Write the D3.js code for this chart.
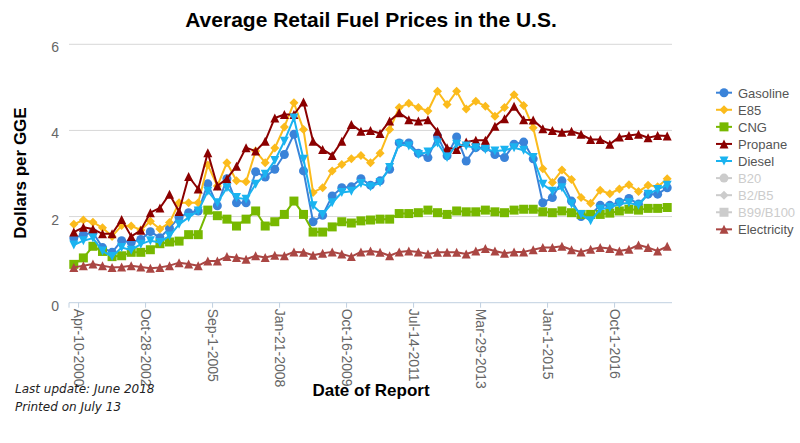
<!DOCTYPE html>
<html>
<head>
<meta charset="utf-8">
<script src="https://cdn.jsdelivr.net/npm/d3@7"></script>
<style>
body { margin: 0; background: #fff; }
svg { display: block; font-family: "Liberation Sans", Arial, sans-serif; }
</style>
</head>
<body>
<svg id="chart" width="800" height="443"></svg>
<script>
// report dates (category axis), one label shown every 7th report
const categories = [
    "Apr-10-2000", "Jul-17-2000", "Oct-16-2000", "Mar-5-2001", "Jul-9-2001", "Nov-5-2001", "Apr-15-2002",
    "Oct-28-2002", "Feb-10-2003", "Jun-16-2003", "Nov-3-2003", "Mar-8-2004", "Jul-12-2004", "Mar-7-2005",
    "Sep-1-2005", "Dec-5-2005", "Mar-6-2006", "Jun-12-2006", "Oct-9-2006", "Mar-5-2007", "Jul-9-2007",
    "Jan-21-2008", "Apr-7-2008", "Jul-7-2008", "Oct-6-2008", "Jan-5-2009", "Apr-6-2009", "Jul-6-2009",
    "Oct-16-2009", "Jan-4-2010", "Apr-5-2010", "Jul-5-2010", "Oct-4-2010", "Jan-3-2011", "Apr-4-2011",
    "Jul-14-2011", "Oct-3-2011", "Jan-2-2012", "Apr-2-2012", "Jul-2-2012", "Oct-1-2012", "Jan-2-2013",
    "Mar-29-2013", "Jul-1-2013", "Oct-1-2013", "Jan-2-2014", "Apr-1-2014", "Jul-1-2014", "Oct-1-2014",
    "Jan-1-2015", "Apr-1-2015", "Jul-1-2015", "Oct-1-2015", "Jan-1-2016", "Apr-1-2016", "Jul-1-2016",
    "Oct-1-2016", "Jan-1-2017", "Apr-1-2017", "Jul-1-2017", "Oct-1-2017", "Jan-1-2018", "Apr-1-2018"
];
const tickLabels = ["Apr-10-2000", "Oct-28-2002", "Sep-1-2005", "Jan-21-2008", "Oct-16-2009",
    "Jul-14-2011", "Mar-29-2013", "Jan-1-2015", "Oct-1-2016"];
const yTicks = [0, 2, 4, 6];

// dollars per gasoline gallon equivalent
const gasoline = [1.50, 1.58, 1.63, 1.28, 1.17, 1.44, 1.40, 1.47, 1.65, 1.51, 1.73, 1.98, 2.09, 2.13,
    2.76, 2.25, 2.88, 2.32, 2.32, 3.04, 2.92, 3.10, 3.44, 3.91, 3.06, 1.88, 2.03, 2.48, 2.67, 2.69,
    2.88, 2.73, 2.83, 3.10, 3.71, 3.71, 3.47, 3.37, 3.87, 3.41, 3.85, 3.29, 3.60, 3.60, 3.44, 3.37,
    3.68, 3.73, 3.34, 2.32, 2.44, 2.83, 2.36, 2.00, 2.05, 2.26, 2.26, 2.34, 2.42, 2.29, 2.52, 2.52, 2.67];
const e85 = [1.82, 1.92, 1.87, 1.74, 1.54, 1.79, 1.78, 1.69, 1.89, 1.71, 1.86, 2.32, 2.32, 2.32,
    3.20, 2.71, 3.25, 2.83, 2.81, 3.52, 3.25, 3.59, 4.08, 4.64, 4.02, 2.56, 2.67, 3.06, 3.21, 3.34,
    3.42, 3.25, 3.47, 4.02, 4.53, 4.63, 4.53, 4.45, 4.91, 4.60, 4.91, 4.50, 4.68, 4.56, 4.33, 4.53,
    4.83, 4.58, 4.06, 3.11, 2.79, 3.08, 2.86, 2.44, 2.31, 2.61, 2.53, 2.64, 2.74, 2.58, 2.73, 2.69, 2.88];
const cng = [0.89, 1.04, 1.31, 1.19, 1.07, 1.09, 1.17, 1.17, 1.23, 1.37, 1.41, 1.43, 1.58, 1.58,
    2.15, 2.02, 1.94, 1.78, 1.94, 2.13, 1.78, 1.88, 2.05, 2.36, 2.05, 1.64, 1.64, 1.76, 1.88, 1.85,
    1.90, 1.92, 1.94, 1.94, 2.07, 2.07, 2.09, 2.15, 2.09, 2.05, 2.13, 2.11, 2.11, 2.15, 2.11, 2.09,
    2.15, 2.17, 2.17, 2.11, 2.09, 2.13, 2.09, 2.05, 2.05, 2.05, 2.08, 2.13, 2.17, 2.15, 2.19, 2.19, 2.21];
const propane = [1.64, 1.75, 1.71, 1.60, 1.60, 1.93, 1.54, 1.68, 2.09, 2.20, 2.52, 2.12, 2.93, 2.64,
    3.48, 2.71, 2.88, 3.17, 3.60, 3.52, 3.75, 4.29, 4.37, 4.37, 4.66, 3.75, 3.56, 3.42, 3.75, 4.14,
    3.98, 4.00, 3.93, 4.22, 4.41, 4.25, 4.22, 4.25, 3.98, 3.60, 3.56, 3.73, 3.77, 3.77, 4.10, 4.27,
    4.56, 4.25, 4.24, 4.04, 4.00, 3.96, 3.98, 3.91, 3.79, 3.79, 3.68, 3.85, 3.88, 3.91, 3.83, 3.88, 3.87];
const diesel = [1.34, 1.44, 1.50, 1.20, 1.07, 1.28, 1.22, 1.36, 1.44, 1.40, 1.55, 1.82, 1.98, 2.13,
    2.59, 2.32, 2.67, 2.44, 2.40, 2.75, 2.98, 3.30, 3.75, 4.29, 3.33, 2.25, 2.05, 2.32, 2.56, 2.59,
    2.77, 2.69, 2.79, 3.14, 3.68, 3.64, 3.44, 3.50, 3.71, 3.37, 3.68, 3.64, 3.60, 3.56, 3.52, 3.54,
    3.60, 3.54, 3.37, 2.75, 2.59, 2.67, 2.29, 2.05, 1.90, 2.17, 2.21, 2.29, 2.32, 2.26, 2.52, 2.63, 2.73];
const electricity = [0.82, 0.86, 0.90, 0.86, 0.82, 0.83, 0.86, 0.83, 0.80, 0.82, 0.86, 0.93, 0.90, 0.86,
    0.97, 0.97, 1.07, 1.05, 1.01, 1.09, 1.05, 1.10, 1.09, 1.18, 1.17, 1.10, 1.15, 1.18, 1.13, 1.07,
    1.18, 1.20, 1.17, 1.09, 1.18, 1.20, 1.18, 1.13, 1.17, 1.17, 1.17, 1.13, 1.20, 1.26, 1.20, 1.15,
    1.18, 1.18, 1.23, 1.28, 1.28, 1.31, 1.23, 1.18, 1.24, 1.28, 1.26, 1.20, 1.24, 1.34, 1.28, 1.20, 1.31];

const seriesList = [
    {name: "Gasoline", values: gasoline, color: "#3a83d9", symbol: "circle"},
    {name: "E85", values: e85, color: "#fbbb1c", symbol: "diamond"},
    {name: "CNG", values: cng, color: "#77b800", symbol: "square"},
    {name: "Propane", values: propane, color: "#8b0000", symbol: "triangle"},
    {name: "Diesel", values: diesel, color: "#1ab3f0", symbol: "triangle-down"},
    {name: "Electricity", values: electricity, color: "#aa4643", symbol: "triangle"}
];
// series switched off in the legend
const hiddenSeries = [
    {name: "B20", symbol: "circle"},
    {name: "B2/B5", symbol: "diamond"},
    {name: "B99/B100", symbol: "square"}
];
const legendOrder = ["Gasoline", "E85", "CNG", "Propane", "Diesel", "B20", "B2/B5", "B99/B100", "Electricity"];

const plot = {left: 69, right: 672, top: 44.3, bottom: 302.7};

const svg = d3.select("#chart");

const x = d3.scaleBand()
    .domain(categories)
    .range([plot.left, plot.right]);
const y = d3.scaleLinear()
    .domain([0, 6])
    .range([plot.bottom, plot.top]);

// marker shapes, r is half the size
function symbolPath(type, r) {
    if (type === "circle") return `M${-r},0A${r},${r} 0 1,0 ${r},0A${r},${r} 0 1,0 ${-r},0Z`;
    if (type === "diamond") return `M0,${-r}L${r},0L0,${r}L${-r},0Z`;
    if (type === "square") return `M${-r},${-r}H${r}V${r}H${-r}Z`;
    if (type === "triangle") return `M0,${-r}L${r},${r}L${-r},${r}Z`;
    return `M${-r},${-r}L${r},${-r}L0,${r}Z`; // triangle-down
}

// gridlines
svg.append("g")
    .selectAll("line")
    .data(yTicks.filter(d => d > 0))
    .join("line")
    .attr("x1", plot.left)
    .attr("x2", plot.right)
    .attr("y1", d => y(d))
    .attr("y2", d => y(d))
    .attr("stroke", "#d8d8d8")
    .attr("stroke-width", 1);

// y tick labels
svg.append("g")
    .selectAll("text")
    .data(yTicks)
    .join("text")
    .attr("x", 59)
    .attr("y", d => y(d) + 8)
    .attr("text-anchor", "end")
    .attr("fill", "#666")
    .style("font-size", "14px")
    .text(d => d);

// x axis line and ticks
const xAxis = svg.append("g");
xAxis.append("line")
    .attr("x1", plot.left)
    .attr("x2", plot.right)
    .attr("y1", plot.bottom)
    .attr("y2", plot.bottom)
    .attr("stroke", "#c0d0e0")
    .attr("stroke-width", 1);

const tickX = d => x(d) + x.bandwidth();
xAxis.selectAll(".tick")
    .data([null].concat(tickLabels))
    .join("line")
    .attr("class", "tick")
    .attr("x1", d => d === null ? plot.left : tickX(d))
    .attr("x2", d => d === null ? plot.left : tickX(d))
    .attr("y1", plot.bottom)
    .attr("y2", plot.bottom + 5)
    .attr("stroke", "#c0d0e0");

xAxis.selectAll(".tick-label")
    .data(tickLabels)
    .join("text")
    .attr("class", "tick-label")
    .attr("transform", d => `translate(${tickX(d)},${plot.bottom + 6}) rotate(90)`)
    .attr("dy", "0.35em")
    .attr("text-anchor", "start")
    .attr("fill", "#666")
    .style("font-size", "14px")
    .text(d => d);

// series
const line = d3.line()
    .x((d, i) => x(categories[i]) + x.bandwidth() / 2)
    .y(d => y(d));

seriesList.forEach(s => {
    const g = svg.append("g");
    g.append("path")
        .datum(s.values)
        .attr("fill", "none")
        .attr("stroke", s.color)
        .attr("stroke-width", 2)
        .attr("stroke-linejoin", "round")
        .attr("d", line);
    g.selectAll("path.marker")
        .data(s.values)
        .join("path")
        .attr("class", "marker")
        .attr("transform", (d, i) => `translate(${x(categories[i]) + x.bandwidth() / 2},${y(d)})`)
        .attr("d", symbolPath(s.symbol, 4.5))
        .attr("fill", s.color);
});

// titles
svg.append("text")
    .attr("x", 371)
    .attr("y", 27)
    .attr("text-anchor", "middle")
    .style("font-size", "21px")
    .style("font-weight", "bold")
    .text("Average Retail Fuel Prices in the U.S.");

svg.append("text")
    .attr("transform", "translate(26,173) rotate(-90)")
    .attr("text-anchor", "middle")
    .style("font-size", "17px")
    .style("font-weight", "bold")
    .text("Dollars per GGE");

svg.append("text")
    .attr("x", 371)
    .attr("y", 396)
    .attr("text-anchor", "middle")
    .style("font-size", "17px")
    .style("font-weight", "bold")
    .text("Date of Report");

// footnote
const note = svg.append("g")
    .style("font-family", "'DejaVu Sans', Verdana, sans-serif")
    .style("font-style", "italic")
    .style("font-size", "12px")
    .attr("fill", "#222");
note.append("text").attr("x", 15).attr("y", 393).text("Last update: June 2018");
note.append("text").attr("x", 15).attr("y", 411).text("Printed on July 13");

// legend
const legend = svg.append("g");
legendOrder.forEach((name, i) => {
    const s = seriesList.find(d => d.name === name);
    const h = hiddenSeries.find(d => d.name === name);
    const color = s ? s.color : "#cccccc";
    const ly = 92.7 + i * 17.08;
    const item = legend.append("g");
    item.append("line")
        .attr("x1", 716)
        .attr("x2", 732)
        .attr("y1", ly)
        .attr("y2", ly)
        .attr("stroke", color)
        .attr("stroke-width", 2);
    item.append("path")
        .attr("transform", `translate(724,${ly})`)
        .attr("d", symbolPath((s || h).symbol, 4.5))
        .attr("fill", color);
    item.append("text")
        .attr("x", 738)
        .attr("y", ly + 5)
        .attr("fill", s ? "#555" : "#cccccc")
        .style("font-size", "13px")
        .text(name);
});
</script>
</body>
</html>
